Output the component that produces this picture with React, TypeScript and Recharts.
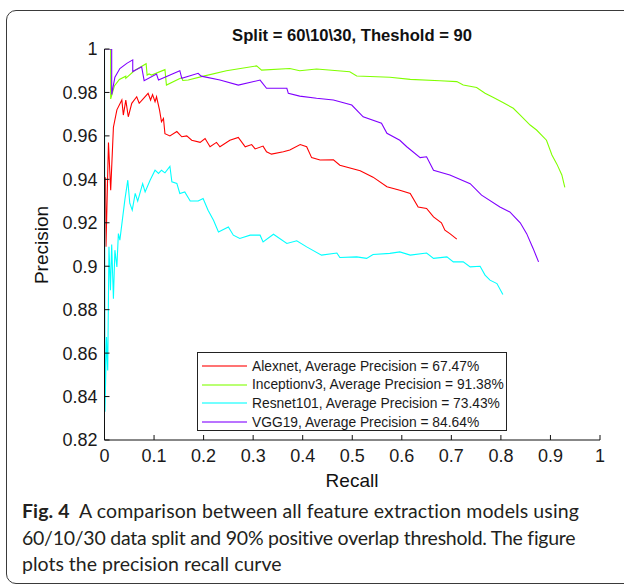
import { LineChart, Line, XAxis, YAxis, Legend } from "recharts";

type Pt = { r: number; p: number };

const alexnetPts: [number, number][] = [
  [0.002, 0.941], [0.003, 0.909], [0.008, 0.957], [0.0125, 0.935], [0.018, 0.964], [0.025, 0.972],
  [0.035, 0.9765], [0.038, 0.9696], [0.043, 0.9765], [0.048, 0.9688], [0.055, 0.975], [0.065, 0.978],
  [0.07, 0.975], [0.078, 0.977], [0.088, 0.9796], [0.093, 0.9765], [0.097, 0.979], [0.102, 0.9757],
  [0.105, 0.978], [0.111, 0.972], [0.115, 0.9665], [0.119, 0.968], [0.122, 0.961], [0.132, 0.96],
  [0.146, 0.962], [0.156, 0.9596], [0.166, 0.96], [0.176, 0.958], [0.193, 0.957], [0.203, 0.9588],
  [0.213, 0.955], [0.226, 0.957], [0.233, 0.955], [0.253, 0.958], [0.27, 0.9593], [0.284, 0.955],
  [0.297, 0.956], [0.304, 0.954], [0.32, 0.9553], [0.327, 0.9527], [0.337, 0.9516], [0.361, 0.9527],
  [0.374, 0.9535], [0.395, 0.956], [0.408, 0.955], [0.418, 0.95], [0.435, 0.9489], [0.462, 0.949],
  [0.475, 0.9465], [0.516, 0.944], [0.542, 0.941], [0.57, 0.9366], [0.596, 0.935], [0.617, 0.9335],
  [0.633, 0.9273], [0.65, 0.9266], [0.664, 0.9227], [0.68, 0.92], [0.687, 0.9166], [0.697, 0.915],
  [0.711, 0.9125],
];

const inceptionPts: [number, number][] = [
  [0, 1], [0.0125, 1], [0.0125, 0.977], [0.02, 0.983], [0.03, 0.986], [0.043, 0.9875], [0.043, 0.9865],
  [0.06, 0.99], [0.084, 0.9932], [0.086, 0.988], [0.09, 0.9885], [0.095, 0.988], [0.122, 0.9905],
  [0.125, 0.9834], [0.15, 0.9862], [0.156, 0.9868], [0.158, 0.9855], [0.169, 0.9857], [0.2, 0.9875],
  [0.246, 0.99], [0.307, 0.9922], [0.317, 0.9903], [0.374, 0.991], [0.394, 0.99], [0.428, 0.9908],
  [0.495, 0.9895], [0.509, 0.9876], [0.576, 0.987], [0.617, 0.986], [0.677, 0.9854], [0.711, 0.985],
  [0.724, 0.9834], [0.751, 0.9823], [0.768, 0.9796], [0.785, 0.9777], [0.805, 0.9753], [0.825, 0.9727],
  [0.839, 0.9696], [0.859, 0.965], [0.872, 0.9627], [0.892, 0.958], [0.903, 0.9512], [0.913, 0.947],
  [0.923, 0.942], [0.929, 0.9363],
];

const resnetPts: [number, number][] = [
  [0, 1], [0.001, 0.833], [0.004, 0.8674], [0.0065, 0.852], [0.009, 0.909], [0.012, 0.889],
  [0.0145, 0.91], [0.018, 0.885], [0.021, 0.9074], [0.025, 0.8997], [0.028, 0.915], [0.031, 0.912],
  [0.036, 0.9212], [0.041, 0.9304], [0.047, 0.9396], [0.051, 0.929], [0.056, 0.9258], [0.062, 0.9335],
  [0.067, 0.93], [0.072, 0.934], [0.077, 0.938], [0.082, 0.9342], [0.092, 0.9396], [0.102, 0.9442],
  [0.109, 0.9427], [0.115, 0.9442], [0.122, 0.943], [0.132, 0.946], [0.136, 0.9389], [0.146, 0.9381],
  [0.152, 0.9335], [0.162, 0.9342], [0.173, 0.93], [0.189, 0.93], [0.199, 0.9312], [0.209, 0.9258],
  [0.22, 0.9212], [0.23, 0.9158], [0.25, 0.9181], [0.26, 0.9143], [0.273, 0.9128], [0.294, 0.9143],
  [0.314, 0.9143], [0.32, 0.9112], [0.341, 0.9147], [0.368, 0.9105], [0.388, 0.9117], [0.408, 0.9089],
  [0.438, 0.9051], [0.469, 0.9061], [0.475, 0.904], [0.509, 0.9043], [0.529, 0.9036], [0.542, 0.9054],
  [0.576, 0.9059], [0.596, 0.9066], [0.617, 0.9051], [0.65, 0.9061], [0.664, 0.9036], [0.691, 0.9043],
  [0.704, 0.902], [0.724, 0.902], [0.738, 0.8997], [0.758, 0.9], [0.768, 0.8959], [0.778, 0.8936],
  [0.792, 0.892], [0.804, 0.887],
];

const vggPts: [number, number][] = [
  [0, 1], [0.0145, 1], [0.0145, 0.979], [0.021, 0.987], [0.031, 0.991], [0.045, 0.9934], [0.057, 0.995],
  [0.057, 0.9896], [0.075, 0.9918], [0.08, 0.9854], [0.105, 0.9885], [0.109, 0.9857], [0.152, 0.99],
  [0.156, 0.9865], [0.189, 0.9888], [0.195, 0.9875], [0.233, 0.9857], [0.27, 0.9834], [0.314, 0.9857],
  [0.327, 0.9819], [0.368, 0.9819], [0.371, 0.9796], [0.394, 0.9783], [0.428, 0.9773], [0.462, 0.9765],
  [0.499, 0.9742], [0.522, 0.9688], [0.559, 0.9658], [0.57, 0.9612], [0.596, 0.958], [0.61, 0.955],
  [0.637, 0.95], [0.65, 0.9504], [0.664, 0.9442], [0.697, 0.942], [0.738, 0.938], [0.761, 0.9327],
  [0.798, 0.9273], [0.818, 0.925], [0.839, 0.92], [0.852, 0.915], [0.865, 0.9082], [0.876, 0.902],
];

const seriesNames = [
  "Alexnet, Average Precision = 67.47%",
  "Inceptionv3, Average Precision = 91.38%",
  "Resnet101, Average Precision = 73.43%",
  "VGG19, Average Precision = 84.64%",
];
const seriesColors = ["#ff0000", "#80ff00", "#00ffff", "#8000ff"];

const xTicks = [0, 0.1, 0.2, 0.3, 0.4, 0.5, 0.6, 0.7, 0.8, 0.9, 1];
const yTicks = [0.82, 0.84, 0.86, 0.88, 0.9, 0.92, 0.94, 0.96, 0.98, 1];

const toPts = (arr: [number, number][]): Pt[] => arr.map(([r, p]) => ({ r, p }));
const series = [alexnetPts, inceptionPts, resnetPts, vggPts].map(toPts);

const fmt = (v: number) => String(+v.toFixed(2));
const tickFont = { fontSize: 18, fill: "#1a1a1a" };

function LegendBox({ payload }: any) {
  return (
    <div
      style={{
        border: "1px solid #222",
        background: "#fff",
        width: 310,
        height: 79,
        padding: "4px 0 0 0",
        boxSizing: "border-box",
        fontFamily: "'Liberation Sans', Arial, sans-serif",
        fontSize: 13.8,
        color: "#1a1a1a",
      }}
    >
      {(payload || []).map((e: any) => (
        <div key={e.value} style={{ display: "flex", alignItems: "center", height: 18.6 }}>
          <span
            style={{
              display: "inline-block",
              width: 45,
              height: 2,
              marginLeft: 4,
              marginRight: 5,
              background: e.color,
              opacity: 0.55,
            }}
          />
          <span>{e.value}</span>
        </div>
      ))}
    </div>
  );
}

export default function App() {
  return (
    <div style={{ position: "absolute", left: 0, top: 0, width: 624, height: 585, overflow: "hidden", background: "#fff" }}>
      <div
        style={{
          position: "absolute",
          left: 6,
          top: 10,
          width: 700,
          height: 574,
          border: "1px solid #3a3a3a",
          borderRadius: 10,
          boxSizing: "border-box",
        }}
      />
      <div
        style={{
          position: "absolute",
          left: 104,
          width: 496,
          top: 26,
          textAlign: "center",
          fontFamily: "'Liberation Sans', Arial, sans-serif",
          fontWeight: "bold",
          fontSize: 16.6,
          color: "#111",
        }}
      >
        {"Split = 60\\10\\30, Theshold = 90"}
      </div>
      <div
        style={{
          position: "absolute",
          left: 42,
          top: 245,
          transform: "translate(-50%, -50%) rotate(-90deg)",
          fontFamily: "'Liberation Sans', Arial, sans-serif",
          fontSize: 19,
          color: "#111",
          whiteSpace: "nowrap",
        }}
      >
        Precision
      </div>
      <div
        style={{
          position: "absolute",
          left: 104,
          width: 496,
          top: 470,
          textAlign: "center",
          fontFamily: "'Liberation Sans', Arial, sans-serif",
          fontSize: 19,
          color: "#111",
        }}
      >
        Recall
      </div>
      <div style={{ position: "absolute", left: 0, top: 0 }}>
        <LineChart
          width={624}
          height={500}
          margin={{ top: 49, right: 24, bottom: 20, left: 44.5 }}
          style={{ fontFamily: "'Liberation Sans', Arial, sans-serif" }}
        >
          <XAxis
            dataKey="r"
            type="number"
            domain={[0, 1]}
            ticks={xTicks}
            tickFormatter={fmt}
            allowDataOverflow
            height={40}
            tickSize={-5}
            tickMargin={14}
            tick={tickFont}
            stroke="#111"
          />
          <XAxis
            xAxisId="top"
            orientation="top"
            dataKey="r"
            type="number"
            domain={[0, 1]}
            ticks={xTicks}
            tickFormatter={() => ""}
            height={0}
            tickSize={-5}
            stroke="#111"
          />
          <YAxis
            dataKey="p"
            type="number"
            domain={[0.82, 1]}
            ticks={yTicks}
            tickFormatter={fmt}
            allowDataOverflow
            width={60}
            tickSize={-5}
            tickMargin={12}
            tick={tickFont}
            stroke="#111"
          />
          <YAxis
            yAxisId="right"
            orientation="right"
            dataKey="p"
            type="number"
            domain={[0.82, 1]}
            ticks={yTicks}
            tickFormatter={() => ""}
            width={0}
            tickSize={-5}
            stroke="#111"
          />
          <Legend
            layout="horizontal"
            verticalAlign="middle"
            align="center"
            content={<LegendBox />}
            wrapperStyle={{ left: 197, top: 352, width: 310, height: 79 }}
          />
          {series.map((pts, i) => (
            <Line
              key={seriesNames[i]}
              data={pts}
              dataKey="p"
              name={seriesNames[i]}
              type="linear"
              stroke={seriesColors[i]}
              strokeWidth={1.1}
              dot={false}
              activeDot={false}
              legendType="line"
              isAnimationActive={false}
            />
          ))}
        </LineChart>
      </div>
      <div
        style={{
          position: "absolute",
          left: 22,
          top: 498,
          fontFamily: "Lato, 'Noto Sans', sans-serif",
          fontSize: 19.5,
          lineHeight: "26.5px",
          color: "#231f20",
          whiteSpace: "nowrap",
        }}
      >
        <span style={{ letterSpacing: 0.1 }}>
          <b>Fig. 4</b>&nbsp; A comparison between all feature extraction models using
        </span>
        <br />
        <span style={{ letterSpacing: -0.25 }}>60/10/30 data split and 90% positive overlap threshold. The figure</span>
        <br />
        plots the precision recall curve
      </div>
    </div>
  );
}
